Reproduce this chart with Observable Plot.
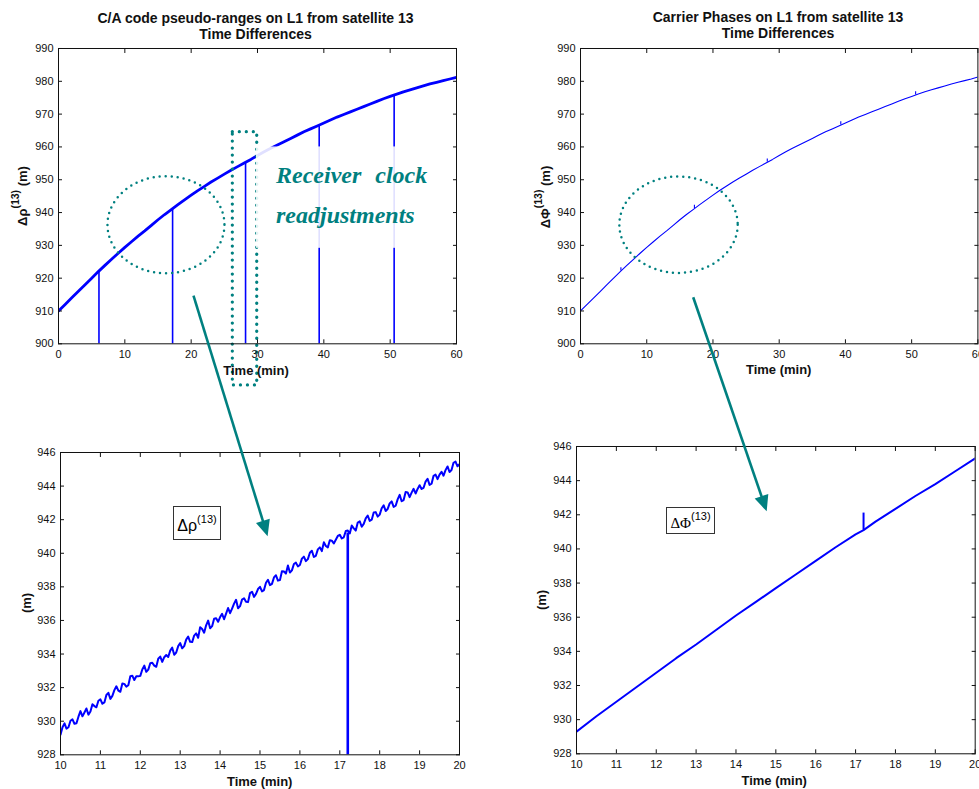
<!DOCTYPE html>
<html><head><meta charset="utf-8">
<script src="https://cdn.jsdelivr.net/npm/d3@7"></script>
<script src="https://cdn.jsdelivr.net/npm/@observablehq/plot@0.6"></script>
<style>
html,body{margin:0;padding:0;background:#fff;overflow:hidden;}
#fig{position:relative;width:979px;height:789px;overflow:hidden;font-family:"Liberation Sans",Arial,sans-serif;color:#000;background:#fff;}
.t{position:absolute;white-space:nowrap;}
.title{font-weight:bold;font-size:14px;line-height:16px;text-align:center;transform:translateX(-50%);color:#111;}
.xl{font-weight:bold;font-size:13px;line-height:15px;transform:translateX(-50%);color:#111;}
.yl{font-weight:bold;font-size:13px;line-height:15px;transform:translate(-50%,-50%) rotate(-90deg);color:#111;}
.sup{font-size:10.5px;position:relative;top:-8px;}
.note{font-family:"Liberation Serif","Times New Roman",serif;font-weight:bold;font-style:italic;font-size:24px;line-height:40px;color:#008080;word-spacing:8px;}
.box{position:absolute;border:1px solid #333;background:#fff;display:flex;align-items:center;justify-content:center;box-sizing:border-box;white-space:nowrap;}
</style></head><body><div id="fig"></div>
<script>
// ---------- data ----------
// Top panels: time differences over 0–60 min (m)
const topTime = [0,1,2,3,4,5,6,7,8,9,10,11,12,13,14,15,16,17,18,19,20,21,22,23,24,25,26,27,28,29,30,31,32,33,34,35,36,37,38,39,40,41,42,43,44,45,46,47,48,49,50,51,52,53,54,55,56,57,58,59,60];
const codeDiff = [910,912,914,916,918,920,922,923.9,925.75,927.6,929.4,931.1,932.8,934.4,936.1,937.8,939.4,940.9,942.4,943.85,945.3,946.7,948.0,949.3,950.5,951.7,952.9,954.0,955.1,956.2,957.4,958.5,959.6,960.6,961.6,962.6,963.6,964.6,965.5,966.4,967.3,968.2,969.1,969.9,970.7,971.5,972.3,973.1,973.9,974.7,975.4,976.1,976.8,977.4,978.0,978.6,979.2,979.7,980.2,980.7,981.2];
const phaseDiff = [910,912,914,916,918,920,922,923.9,925.75,927.6,929.4,931.1,932.8,934.4,936.1,937.8,939.4,940.9,942.4,943.85,945.3,946.7,948.0,949.3,950.5,951.7,952.9,954.0,955.1,956.2,957.4,958.5,959.6,960.6,961.6,962.6,963.6,964.6,965.5,966.4,967.3,968.2,969.1,969.9,970.7,971.5,972.3,973.1,973.9,974.7,975.4,976.1,976.8,977.4,978.0,978.6,979.2,979.7,980.2,980.7,981.3];
// receiver clock readjustment epochs (min) and series value there
const jumpTimes = [6.1, 17.2, 28.2, 39.3, 50.6];
const jumpValues = [922.2, 941.2, 955.3, 966.7, 975.8];
const phaseSpike = 1.0; // small phase spike height (m)

// Bottom-left: zoom of code differences, 10–20 min (two interleaved sample sets)
const zoomTime = [10,10.1,10.2,10.3,10.4,10.5,10.6,10.7,10.8,10.9,11,11.1,11.2,11.3,11.4,11.5,11.6,11.7,11.8,11.9,12,12.1,12.2,12.3,12.4,12.5,12.6,12.7,12.8,12.9,13,13.1,13.2,13.3,13.4,13.5,13.6,13.7,13.8,13.9,14,14.1,14.2,14.3,14.4,14.5,14.6,14.7,14.8,14.9,15,15.1,15.2,15.3,15.4,15.5,15.6,15.7,15.8,15.9,16,16.1,16.2,16.3,16.4,16.5,16.6,16.7,16.8,16.9,17,17.1,17.2,17.3,17.4,17.5,17.6,17.7,17.8,17.9,18,18.1,18.2,18.3,18.4,18.5,18.6,18.7,18.8,18.9,19,19.1,19.2,19.3,19.4,19.5,19.6,19.7,19.8,19.9,20];
const zoomCode = [929.2,929.87,929.64,930.11,929.88,930.6,930.52,930.39,931.01,930.83,
931.3,931.12,931.69,931.51,932.08,931.75,932.22,932.14,932.71,932.68,
932.7,933.31,933.07,933.48,933.24,933.85,933.81,933.82,934.38,934.09,
934.65,934.47,935.04,934.71,935.23,935.6,935.27,935.99,935.66,936.13,
936.2,936.07,936.74,936.71,937.23,936.85,937.32,937.09,937.71,937.58,
938.0,937.81,938.42,938.18,938.69,938.4,938.91,939.27,938.98,939.44,
939.3,939.8,939.65,940.15,939.85,940.35,940.65,940.35,940.75,940.8,
941.1,940.95,941.35,941.65,941.35,941.9,941.75,942.25,942.0,942.45,
942.3,942.85,942.64,943.09,942.83,943.48,943.17,943.62,943.61,943.56,
944.05,943.9,944.44,944.14,944.68,944.68,944.62,945.17,944.96,945.46,
945.3];
const zoomTimeMid = [10.05,10.15,10.25,10.35,10.45,10.55,10.65,10.75,10.85,10.95,11.05,11.15,11.25,11.35,11.45,11.55,11.65,11.75,11.85,11.95,12.05,12.15,12.25,12.35,12.45,12.55,12.65,12.75,12.85,12.95,13.05,13.15,13.25,13.35,13.45,13.55,13.65,13.75,13.85,13.95,14.05,14.15,14.25,14.35,14.45,14.55,14.65,14.75,14.85,14.95,15.05,15.15,15.25,15.35,15.45,15.55,15.65,15.75,15.85,15.95,16.05,16.15,16.25,16.35,16.45,16.55,16.65,16.75,16.85,16.95,17.05,17.15,17.25,17.35,17.45,17.55,17.65,17.75,17.85,17.95,18.05,18.15,18.25,18.35,18.45,18.55,18.65,18.75,18.85,18.95,19.05,19.15,19.25,19.35,19.45,19.55,19.65,19.75,19.85,19.95];
const zoomCodeMid = [929.64,929.56,930.03,929.85,930.27,930.29,930.76,930.58,930.9,931.22,
931.04,931.56,931.33,931.85,931.82,932.24,932.06,932.68,932.45,932.67,
933.08,932.94,933.45,933.31,933.72,933.53,933.94,934.2,933.96,934.47,
934.34,934.86,934.73,935.1,934.97,935.49,935.71,935.53,936.1,935.92,
936.39,936.41,936.43,937.0,936.72,937.24,937.11,937.63,937.4,937.87,
937.73,938.24,938.1,938.56,938.37,938.93,938.79,938.85,939.36,939.22,
939.68,939.53,940.03,939.78,940.23,940.13,940.43,940.78,940.58,941.03,
940.88,941.33,941.18,941.48,941.83,941.58,942.08,941.93,942.43,942.18,
942.68,942.52,942.97,942.76,943.21,943.1,943.65,943.34,943.84,943.83,
943.83,944.27,944.07,944.61,944.41,944.85,944.95,944.84,945.39,945.18];
const zoomJumpTime = [17.2];
const zoomJumpTop = [941.2];

// Bottom-right: zoom of carrier phase differences, 10–20 min
const zoomPhaseTime = [10,10.5,11,11.5,12,12.5,13,13.5,14,14.5,15,15.5,16,16.5,17,17.2,17.5,18,18.5,19,19.5,20];
const zoomPhase = [929.3,930.2,931.05,931.9,932.75,933.6,934.4,935.25,936.1,936.9,937.7,938.5,939.3,940.1,940.85,941.1,941.6,942.35,943.1,943.8,944.55,945.3];

// tick labels
const topXTicks = [0,10,20,30,40,50,60];
const topYTicks = [900,910,920,930,940,950,960,970,980,990];
const botXTicks = [10,11,12,13,14,15,16,17,18,19,20];
const botYTicks = [928,930,932,934,936,938,940,942,944,946];

// annotations (data coordinates of their panels)
const ellipseA = {t: 16.2, v: 936.3, ry: 48.5, aspect: 1.206};
const ellipseB = {t: 14.8, v: 936.3, ry: 48.2, aspect: 1.228};
const clockBox = {t1: 26.28, t2: 29.96, v1: 887.3, v2: 964.5};
const noteMask = {t1: 29.85, t2: 57.6, v1: 929.1, v2: 960.0};
const arrowStart = [{t: 20.35, v: 914.7}, {t: 16.97, v: 914.2}];   // in top panels
const arrowEnd = [{t: 15.19, v: 941.0}, {t: 14.77, v: 942.2}];     // in zoom panels

// ---------- drawing ----------
const blue = "#0000ff", teal = "#008080";
const fig = document.getElementById("fig");
const ML = 40, MT = 12, MR = 24, MB = 50, TICK = 4;
const rows = (xs, ys) => xs.map((x, i) => ({x, y: ys[i]}));

function ellipseSymbol(aspect) {
  return {draw(ctx, size) {
    const ry = Math.sqrt(size / Math.PI), rx = ry * aspect, k = 0.5523;
    ctx.moveTo(rx, 0);
    ctx.bezierCurveTo(rx, ry * k, rx * k, ry, 0, ry);
    ctx.bezierCurveTo(-rx * k, ry, -rx, ry * k, -rx, 0);
    ctx.bezierCurveTo(-rx, -ry * k, -rx * k, -ry, 0, -ry);
    ctx.bezierCurveTo(rx * k, -ry, rx, -ry * k, rx, 0);
    ctx.closePath();
  }};
}
const arrowHead = {draw(ctx, size) {
  const s = Math.sqrt(size / Math.PI);
  ctx.moveTo(0, 0); ctx.lineTo(-0.9 * s, 2 * s); ctx.lineTo(0.9 * s, 2 * s); ctx.closePath();
}};

function panel(f, xDomain, yDomain, xTicks, yTicks, marks) {
  const w = f.R - f.L, h = f.B - f.T;
  const blank = () => "";
  const svg = Plot.plot({
    width: w + ML + MR, height: h + MT + MB,
    marginLeft: ML, marginRight: MR, marginTop: MT, marginBottom: MB,
    x: {domain: xDomain}, y: {domain: yDomain},
    style: {fontFamily: "Liberation Sans, Arial, sans-serif", fontSize: "11px", background: "transparent", overflow: "visible", maxWidth: "none", color: "#111"},
    marks: [
      ...marks,
      // tick labels
      Plot.axisX(xTicks, {anchor: "bottom", tickSize: 0, tickPadding: 6, label: null}),
      Plot.axisY(yTicks, {anchor: "left", tickSize: 0, tickPadding: 5, label: null}),
      // inward ticks on all four sides
      Plot.axisX(xTicks, {anchor: "bottom", tickSize: TICK, dy: -TICK, tickFormat: blank, label: null}),
      Plot.axisX(xTicks, {anchor: "top", tickSize: TICK, dy: TICK, tickFormat: blank, label: null}),
      Plot.axisY(yTicks, {anchor: "left", tickSize: TICK, dx: TICK, tickFormat: blank, label: null}),
      Plot.axisY(yTicks, {anchor: "right", tickSize: TICK, dx: -TICK, tickFormat: blank, label: null}),
      Plot.frame({stroke: "#111"})
    ]
  });
  svg.style.position = "absolute";
  svg.style.left = (f.L - ML) + "px";
  svg.style.top = (f.T - MT) + "px";
  fig.appendChild(svg);
  return {ox: f.L - ML, oy: f.T - MT, x: svg.scale("x"), y: svg.scale("y")};
}

const dotted = {fill: "none", stroke: teal, strokeWidth: 2.5, strokeDasharray: "0 6", strokeLinecap: "round"};

const pA = panel({L: 58, R: 456, T: 48, B: 343.3}, [0, 60], [900, 990], topXTicks, topYTicks, [
  Plot.line(rows(topTime, codeDiff), {x: "x", y: "y", stroke: blue, strokeWidth: 2.8, clip: true}),
  Plot.ruleX(rows(jumpTimes, jumpValues), {x: "x", y1: "y", y2: 900, stroke: blue, strokeWidth: 1.6}),
  Plot.dot([ellipseA], {x: "t", y: "v", r: ellipseA.ry, symbol: ellipseSymbol(ellipseA.aspect), ...dotted}),
  Plot.rect([clockBox], {x1: "t1", x2: "t2", y1: "v1", y2: "v2", fill: "none", stroke: teal, strokeWidth: 3.3, strokeDasharray: "0 7", strokeLinecap: "round"}),
  Plot.rect([noteMask], {x1: "t1", x2: "t2", y1: "v1", y2: "v2", fill: "white", fillOpacity: 0.88})
]);

const pB = panel({L: 580.3, R: 977.7, T: 48, B: 343.3}, [0, 60], [900, 990], topXTicks, topYTicks, [
  Plot.line(rows(topTime, phaseDiff), {x: "x", y: "y", stroke: blue, strokeWidth: 1.1, clip: true}),
  Plot.ruleX(rows(jumpTimes, jumpValues), {x: "x", y1: "y", y2: d => d.y + phaseSpike, stroke: blue, strokeWidth: 1.1}),
  Plot.dot([ellipseB], {x: "t", y: "v", r: ellipseB.ry, symbol: ellipseSymbol(ellipseB.aspect), ...dotted})
]);

const zoomRows = rows(zoomTime, zoomCode).concat(rows(zoomTimeMid, zoomCodeMid)).sort((a, b) => a.x - b.x);
const pC = panel({L: 60, R: 459, T: 451.7, B: 754}, [10, 20], [928, 946], botXTicks, botYTicks, [
  Plot.line(zoomRows, {x: "x", y: "y", stroke: blue, strokeWidth: 2, clip: true}),
  Plot.ruleX(rows(zoomJumpTime, zoomJumpTop), {x: "x", y1: "y", y2: 928, stroke: blue, strokeWidth: 2.6})
]);

const pD = panel({L: 576, R: 974.7, T: 446, B: 753.3}, [10, 20], [928, 946], botXTicks, botYTicks, [
  Plot.line(rows(zoomPhaseTime, zoomPhase), {x: "x", y: "y", stroke: blue, strokeWidth: 2, clip: true}),
  Plot.ruleX(rows([17.2], [941.1]), {x: "x", y1: "y", y2: d => d.y + phaseSpike, stroke: blue, strokeWidth: 2})
]);

// ---------- text ----------
function addText(cls, left, top, html) {
  const d = document.createElement("div");
  d.className = "t " + cls;
  d.style.left = left + "px"; d.style.top = top + "px";
  d.innerHTML = html;
  fig.appendChild(d);
  return d;
}
addText("title", 255.5, 10, "C/A code pseudo-ranges on L1 from satellite 13<br>Time Differences");
addText("title", 778, 8.5, "Carrier Phases on L1 from satellite 13<br>Time Differences");
addText("xl", 256, 362.5, "Time (min)");
addText("xl", 778.7, 362.3, "Time (min)");
addText("xl", 259.7, 774, "Time (min)");
addText("xl", 774.2, 773, "Time (min)");
addText("yl", 23, 196, "&Delta;&rho;<span class='sup'>(13)</span> (m)");
addText("yl", 545.5, 197, "&Delta;&Phi;<span class='sup'>(13)</span> (m)");
addText("yl", 25.5, 603, "(m)");
addText("yl", 540.5, 600, "(m)");
addText("note", 276, 155.2, "Receiver clock<br>readjustments");

function addBox(left, top, w, h, html) {
  const d = document.createElement("div");
  d.className = "box";
  Object.assign(d.style, {left: left + "px", top: top + "px", width: w + "px", height: h + "px"});
  d.innerHTML = html;
  fig.appendChild(d);
}
addBox(173.3, 506, 47.4, 34, "<span style='font-family:Liberation Sans,Arial,sans-serif;font-size:16px;position:relative;top:3px'>&Delta;&rho;</span><span style='font-size:11px;position:relative;top:-4px'>(13)</span>");
addBox(666, 506.7, 49, 27.6, "<span style='font-family:Liberation Serif,Times New Roman,serif;font-size:15px;position:relative;top:3px'>&Delta;&Phi;</span><span style='font-size:11px;position:relative;top:-4px'>(13)</span>");

// ---------- arrows linking overview to zoom panels ----------
const arrows = arrowStart.map((s, i) => {
  const P = [pA, pB][i], Q = [pC, pD][i], e = arrowEnd[i];
  const x1 = P.ox + P.x.apply(s.t), y1 = P.oy + P.y.apply(s.v);
  const tx = Q.ox + Q.x.apply(e.t), ty = Q.oy + Q.y.apply(e.v);
  const dx = tx - x1, dy = ty - y1, len = Math.hypot(dx, dy);
  return {x1, y1, x2: tx - dx / len * 10, y2: ty - dy / len * 10, tx, ty, angle: Math.atan2(dx, -dy) * 180 / Math.PI};
});
const overlay = Plot.plot({
  width: 979, height: 789, margin: 0,
  x: {type: "identity", axis: null}, y: {type: "identity", axis: null},
  style: {background: "transparent", maxWidth: "none"},
  marks: [
    Plot.link(arrows, {x1: "x1", y1: "y1", x2: "x2", y2: "y2", stroke: teal, strokeWidth: 2.6}),
    Plot.dot(arrows, {x: "tx", y: "ty", r: 8, symbol: arrowHead, fill: teal, stroke: "none", rotate: "angle"})
  ]
});
Object.assign(overlay.style, {position: "absolute", left: "0px", top: "0px", pointerEvents: "none"});
fig.appendChild(overlay);
</script></body></html>
